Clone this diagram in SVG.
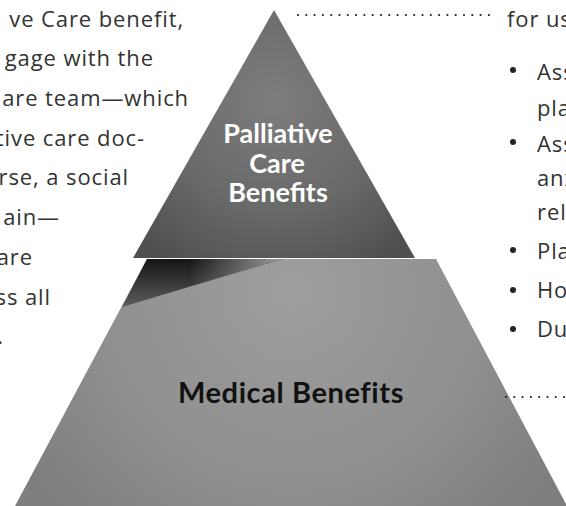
<svg xmlns="http://www.w3.org/2000/svg" width="566" height="506" viewBox="0 0 566 506">
<defs>
<radialGradient id="gTop" gradientUnits="userSpaceOnUse" cx="274" cy="100" r="190">
<stop offset="0" stop-color="#7d7d7d"/>
<stop offset="0.6" stop-color="#686868"/>
<stop offset="1" stop-color="#505050"/>
</radialGradient>
<radialGradient id="gBot" gradientUnits="userSpaceOnUse" cx="292" cy="290" r="320">
<stop offset="0" stop-color="#9e9e9e"/>
<stop offset="0.6" stop-color="#8f8f8f"/>
<stop offset="1" stop-color="#7e7e7e"/>
</radialGradient>
<linearGradient id="gShadow" gradientUnits="userSpaceOnUse" x1="0" y1="259" x2="0" y2="307">
<stop offset="0" stop-color="#141414"/>
<stop offset="1" stop-color="#5c5c5c"/>
</linearGradient>
<linearGradient id="gFade" gradientUnits="userSpaceOnUse" x1="190" y1="0" x2="278" y2="0">
<stop offset="0" stop-color="#979797" stop-opacity="0"/>
<stop offset="1" stop-color="#979797" stop-opacity="1"/>
</linearGradient>
</defs>
<style>
.body{font-family:"Open Sans","Noto Sans",sans-serif;font-size:22px;letter-spacing:0.9px;fill:#333}
.lbl{font-family:Lato,"Liberation Sans",sans-serif;font-weight:700;text-anchor:middle}
.dots{stroke:#222;stroke-width:2.2;stroke-linecap:round;stroke-dasharray:0 8.3;fill:none}
</style>
<g id="left-text" class="body" text-anchor="end">
<text x="184" y="27">ve Care benefit,</text>
<text x="154" y="66">gage with the</text>
<text x="189" y="106">are team—which</text>
<text x="145" y="146">tive care doc-</text>
<text x="129" y="185">rse, a social</text>
<text x="60" y="225">ain—</text>
<text x="33" y="265">are</text>
<text x="51" y="305">ss all</text>
<text x="4" y="344">.</text>
</g>
<g id="medical-benefits">
<polygon points="147,259 436,259 567,506 15,506" fill="url(#gBot)"/>
<polygon points="147,259 282,259 122,307" fill="url(#gShadow)"/>
<polygon points="147,259 282,259 122,307" fill="url(#gFade)"/>
<text class="lbl" x="291" y="403" font-size="29" letter-spacing="0.6" fill="#111">Medical Benefits</text>
</g>
<g id="palliative-care-benefits">
<polygon points="274,10 415,258 133,258" fill="url(#gTop)"/>
<text class="lbl" x="278" y="143" font-size="27" fill="#fff">Palliative</text>
<text class="lbl" x="277" y="173" font-size="27" fill="#fff">Care</text>
<text class="lbl" x="278" y="202" font-size="27" fill="#fff">Benefits</text>
</g>
<g id="connectors">
<line class="dots" x1="298" y1="15" x2="490" y2="15"/>
<line class="dots" x1="506" y1="397" x2="566" y2="397"/>
</g>
<g id="right-text" class="body">
<text x="507" y="27">for us</text>
<g fill="#222">
<circle cx="513" cy="70" r="3"/>
<circle cx="513" cy="142" r="3"/>
<circle cx="513" cy="250" r="3"/>
<circle cx="513" cy="290" r="3"/>
<circle cx="513" cy="329" r="3"/>
</g>
<text x="537" y="80">Ass</text>
<text x="537" y="116">pla</text>
<text x="537" y="152">Ass</text>
<text x="537" y="186">anx</text>
<text x="537" y="220">rel</text>
<text x="537" y="259">Pla</text>
<text x="537" y="298">Ho</text>
<text x="537" y="337">Du</text>
</g>
</svg>
